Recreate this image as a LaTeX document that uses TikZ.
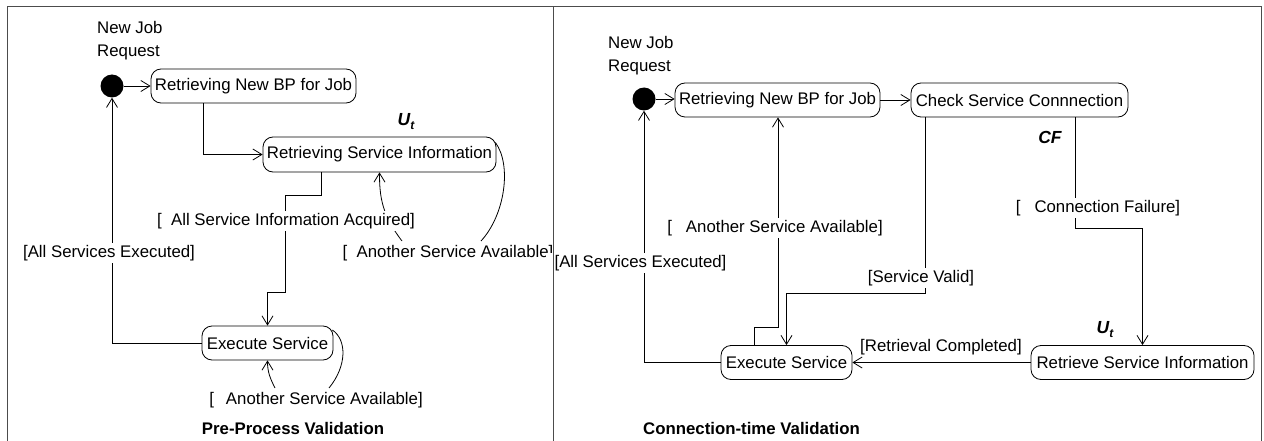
\documentclass[tikz,border=0pt]{standalone}
\usepackage{fontspec}
\setmainfont{Liberation Sans}
\usetikzlibrary{arrows.meta,calc}
\begin{document}
\begin{tikzpicture}[x=1pt,y=-1pt,
  every node/.style={font=\fontsize{16.8}{23}\selectfont, inner sep=0pt},
  state/.style={draw, rounded corners=10pt, minimum height=34pt, line width=0.8pt},
  init/.style={fill=black, circle, minimum size=23pt},
  lbl/.style={fill=white, inner sep=2pt},
  nolbl/.style={inner sep=2pt},
  ttl/.style={font=\fontsize{16.8}{23}\selectfont\bfseries},
  var/.style={font=\fontsize{17.5}{23}\selectfont\bfseries\itshape},
  arr/.style={-{Straight Barb[length=9pt,width=11pt]}, line width=0.8pt},
  ln/.style={line width=0.8pt},
  frame/.style={draw=black!70, line width=1pt}]
\useasboundingbox (0,0) rectangle (1264,441);

% ---------------- Left panel ----------------
\node[align=left, anchor=west] (njL) at (97,40.5) {New Job\\Request};
\node[init] (dotL) at (112,86) {};
\node[state, minimum width=205pt] (bpL) at (253.5,86) {Retrieving New BP for Job};
\node[state, minimum width=233pt, minimum height=35pt] (rsiL) at (379.5,154.5) {Retrieving Service Information};
\node[state, minimum width=131pt] (exL) at (267.5,343) {Execute Service};
\node[var] (utL) at (406,122) {U\raisebox{-4pt}{\fontsize{12}{12}\selectfont t}};

\coordinate (a1) at (203,154.5);
\draw[arr] (dotL) -- (bpL.west);
\draw[arr] (bpL.south -| a1) -- (a1) -- (rsiL.west);

\coordinate (b1) at (321,195);
\coordinate (b2) at (285,292);
\coordinate (b3) at (267.5,292);
\draw[arr] (rsiL.south -| b1) -- (b1) -| (b2) -- (b3) -- (exL.north);

\draw[arr] (exL.west) -| (dotL.south);

\coordinate (lbB1) at (481,241);
\coordinate (lbB2) at (402,241);
\draw[ln] ($(rsiL.east)+(-1,-12)$) .. controls (512,165) and (505,215) .. (lbB1);
\draw[arr] (lbB2) .. controls (382,215) and (379.5,197) .. (rsiL.south);

\coordinate (lbC1) at (329,388);
\coordinate (lbC2) at (275,388);
\draw[ln] ($(exL.east)+(-1,-13)$) .. controls (347,340) and (347,366) .. (lbC1);
\draw[arr] (lbC2) .. controls (270,378) and (267.5,372) .. (exL.south);

\node[lbl] (lblA) at (286,221) {[\ \ All Service Information Acquired]};
\node[lbl] (lblE) at (109,253) {[All Services Executed]};
\node[lbl] (lblB) at (448,253) {[\ \ Another Service Available]};
\node[lbl] (lblC) at (316,400) {[\hspace{12pt}Another Service Available]};
\node[ttl] (ttlL) at (293,428) {Pre-Process Validation};

% ---------------- Right panel ----------------
\node[align=left, anchor=west] (njR) at (608,55.5) {New Job\\Request};
\node[init] (dotR) at (644,99) {};
\node[state, minimum width=205pt] (bpR) at (777.5,100) {Retrieving New BP for Job};
\node[state, minimum width=217pt] (cscR) at (1019.5,100) {Check Service Connnection};
\node[state, minimum width=131pt] (exR) at (786.5,362.5) {Execute Service};
\node[state, minimum width=223pt] (rtR) at (1142.5,362.5) {Retrieve Service Information};
\node[var] (cf) at (1050,137) {CF};
\node[var] (utR) at (1105,330) {U\raisebox{-4pt}{\fontsize{12}{12}\selectfont t}};

\draw[arr] (dotR) -- (dotR -| bpR.west);
\draw[arr] (bpR.east) -- (cscR.west);

\coordinate (c1) at (925,293);
\draw[arr] (cscR.south -| c1) -- (c1) -| (exR.north);

\coordinate (d1) at (1075,228);
\draw[arr] (cscR.south -| d1) -- (d1) -| (rtR.north);

\draw[arr] (rtR.west) -- (exR.east);

\coordinate (e1) at (754,327);
\coordinate (e2) at (778,327);
\draw[arr] (exR.north -| e1) -- (e1) -- (e2) -- (bpR.south -| e2);

\draw[arr] (exR.west) -| (dotR.south);

\node[lbl] (lblSV) at (921,278) {[Service Valid]};
\node[lbl] (lblCF) at (1098,208) {[\hspace{14pt}Connection Failure]};
\node[nolbl] (lblRC) at (941,347) {[Retrieval Completed]};
\node[lbl] (lblASA) at (775,228) {[\hspace{14pt}Another Service Available]};
\node[lbl, inner xsep=9pt] (lblASE) at (640.5,263) {[All Services Executed]};
\node[ttl] (ttlR) at (751.5,428) {Connection-time Validation};

% ---------------- Frame ----------------
\draw[frame] (7,441) -- (7,7) -- (1261,7) -- (1261,441);
\draw[frame] (553,7) -- (553,441);
\end{tikzpicture}
\end{document}
